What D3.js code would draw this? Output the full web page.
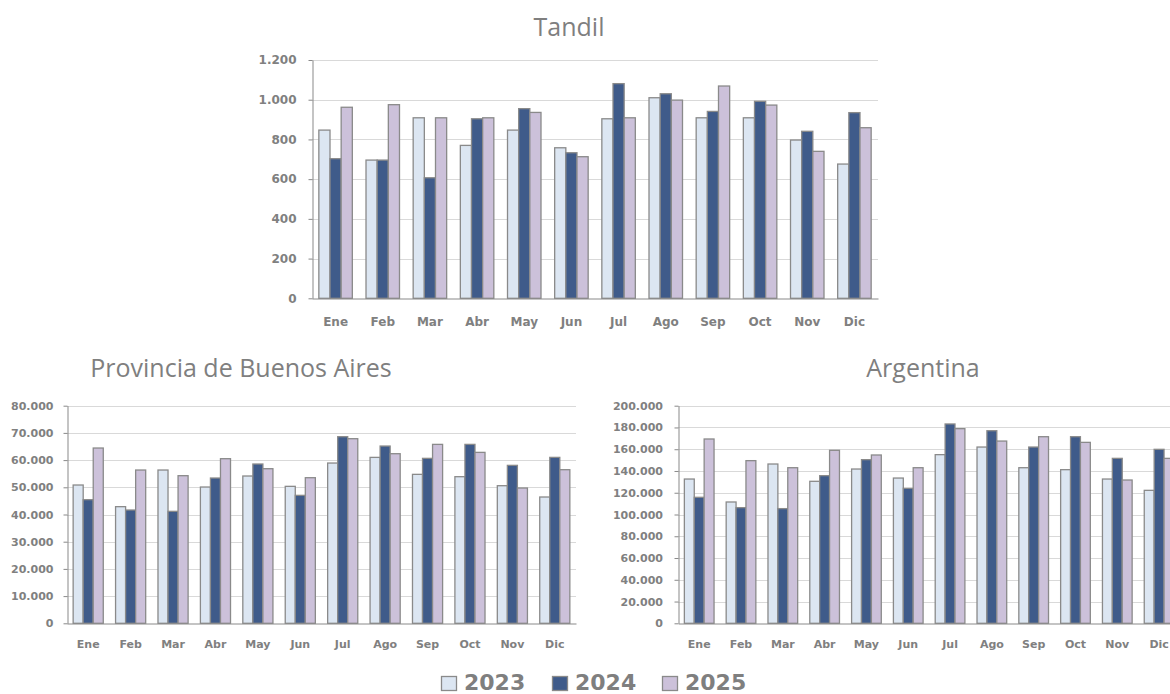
<!DOCTYPE html>
<html>
  <head>
    <meta charset="utf-8">
    <title>Tandil / Provincia / Argentina</title>
    <style>
      body{
        margin: 0;
        background-color: #FFF;
      }
      svg{
        display: block;
        background-color: #FFF;
      }
      text.title{
        font-family: "Open Sans", sans-serif;
        font-size: 25px;
        fill: #7f7f7f;
        text-anchor: middle;
      }
      .axis text{
        font-family: "DejaVu Sans", sans-serif;
        font-weight: bold;
        fill: #808080;
      }
      .axis path, .axis line{
        stroke: #898989;
      }
      line.grid{
        stroke: #d9d9d9;
        stroke-width: 1px;
      }
      rect.bar{
        stroke: #8a8a8a;
        stroke-width: 1.3px;
      }
      text.legend{
        font-family: "DejaVu Sans", sans-serif;
        font-weight: bold;
        font-size: 22px;
        fill: #7f7f7f;
      }
    </style>
  </head>
  <body>
  <script src="https://cdn.jsdelivr.net/npm/d3@7"></script>
  <script>
const width = 1170;
const height = 694;

const meses = ['Ene', 'Feb', 'Mar', 'Abr', 'May', 'Jun', 'Jul', 'Ago', 'Sep', 'Oct', 'Nov', 'Dic'];
const anios = ['2023', '2024', '2025'];
const colores = ['#dce6f2', '#3f5b8a', '#ccc1da'];

const tandil2023 = [847, 696, 909, 770, 847, 758, 904, 1010, 909, 909, 797, 676];
const tandil2024 = [703, 696, 607, 904, 955, 733, 1081, 1030, 941, 992, 841, 935];
const tandil2025 = [962, 975, 909, 909, 936, 713, 909, 998, 1069, 973, 740, 859];

const provincia2023 = [50840, 42880, 56350, 50100, 54150, 50350, 58920, 61000, 54760, 53900, 50590, 46430];
const provincia2024 = [45450, 41650, 41160, 53410, 58560, 47040, 68600, 65170, 60640, 65780, 58070, 61000];
const provincia2025 = [64440, 56350, 54270, 60520, 56840, 53530, 67870, 62350, 65780, 62840, 49740, 56470];

const argentina2023 = [132600, 111500, 146400, 130500, 141800, 133500, 155000, 162000, 143000, 141200, 132600, 122200];
const argentina2024 = [115800, 106300, 105400, 135700, 150400, 124100, 183200, 177000, 162000, 171500, 151600, 159900];
const argentina2025 = [169400, 149500, 143000, 159000, 154700, 143000, 178900, 167500, 171500, 166300, 131700, 151600];

const tandilTicks = [0, 200, 400, 600, 800, 1000, 1200];
const provinciaTicks = [0, 10000, 20000, 30000, 40000, 50000, 60000, 70000, 80000];
const argentinaTicks = [0, 20000, 40000, 60000, 80000, 100000, 120000, 140000, 160000, 180000, 200000];

// miles con punto
const fmt = d3.formatLocale({ decimal: ',', thousands: '.', grouping: [3], currency: ['$', ''] }).format(',d');

const svg = d3.select('body')
  .append('svg')
  .attr('width', width)
  .attr('height', height);

function chart(opts) {
  const x = d3.scaleBand()
    .domain(meses)
    .range([opts.left, opts.right]);

  const y = d3.scaleLinear()
    .domain([0, opts.ticks[opts.ticks.length - 1]])
    .range([opts.bottom, opts.top]);

  const xs = d3.scaleBand()
    .domain(anios)
    .range([0, x.bandwidth() * 0.71]);

  const g = svg.append('g');

  g.append('text')
    .attr('class', 'title')
    .attr('x', opts.titleX)
    .attr('y', opts.titleY)
    .text(opts.title);

  g.append('g').selectAll('line')
    .data(opts.ticks.slice(1))
    .join('line')
    .attr('class', 'grid')
    .attr('x1', opts.left)
    .attr('x2', opts.right)
    .attr('y1', (d) => Math.round(y(d)) + 0.5)
    .attr('y2', (d) => Math.round(y(d)) + 0.5);

  const yAxis = g.append('g')
    .attr('class', 'axis')
    .attr('transform', `translate(${Math.round(opts.left) + 0.5},0)`)
    .call(d3.axisLeft(y).tickValues(opts.ticks).tickFormat(fmt).tickSize(4).tickSizeOuter(0).tickPadding(opts.yPad));
  yAxis.selectAll('text').style('font-size', opts.fontSize + 'px');

  const series = [opts.s2023, opts.s2024, opts.s2025];
  const rows = [];
  meses.forEach((m, i) => {
    anios.forEach((a, j) => {
      rows.push({ mes: m, anio: a, idx: j, valor: series[j][i] });
    });
  });

  const off = (x.bandwidth() - xs.range()[1]) / 2;
  g.append('g').selectAll('rect')
    .data(rows)
    .join('rect')
    .attr('class', 'bar')
    .attr('x', (d) => x(d.mes) + off + xs(d.anio))
    .attr('y', (d) => y(d.valor))
    .attr('width', xs.bandwidth())
    .attr('height', (d) => y(0) - y(d.valor))
    .attr('fill', (d) => colores[d.idx]);

  const xAxis = g.append('g')
    .attr('class', 'axis')
    .attr('transform', `translate(0,${Math.round(opts.bottom) + 0.5})`)
    .call(d3.axisBottom(x).tickSize(0).tickSizeOuter(0).tickPadding(opts.xPad));
  xAxis.selectAll('text').style('font-size', opts.fontSize + 'px');
}

chart({
  title: 'Tandil', titleX: 569, titleY: 36,
  left: 312, right: 878, top: 60, bottom: 298.3,
  ticks: tandilTicks, fontSize: 12, yPad: 12, xPad: 19,
  s2023: tandil2023, s2024: tandil2024, s2025: tandil2025
});

chart({
  title: 'Provincia de Buenos Aires', titleX: 241, titleY: 377,
  left: 67, right: 576, top: 405.7, bottom: 623.3,
  ticks: provinciaTicks, fontSize: 11, yPad: 10, xPad: 17,
  s2023: provincia2023, s2024: provincia2024, s2025: provincia2025
});

chart({
  title: 'Argentina', titleX: 923, titleY: 377,
  left: 678.3, right: 1180, top: 405.7, bottom: 623.3,
  ticks: argentinaTicks, fontSize: 11, yPad: 11.5, xPad: 17,
  s2023: argentina2023, s2024: argentina2024, s2025: argentina2025
});

// leyenda
const legendX = [441, 552, 662];
const legend = svg.append('g').selectAll('g')
  .data(anios)
  .join('g')
  .attr('transform', (d, i) => `translate(${legendX[i]},0)`);

legend.append('rect')
  .attr('x', 0.5)
  .attr('y', 676.5)
  .attr('width', 15)
  .attr('height', 14)
  .attr('fill', (d, i) => colores[i])
  .attr('stroke', '#8a8a8a')
  .attr('stroke-width', 1.3);

legend.append('text')
  .attr('class', 'legend')
  .attr('x', 23)
  .attr('y', 690)
  .text((d) => d);
  </script>
  </body>
</html>
